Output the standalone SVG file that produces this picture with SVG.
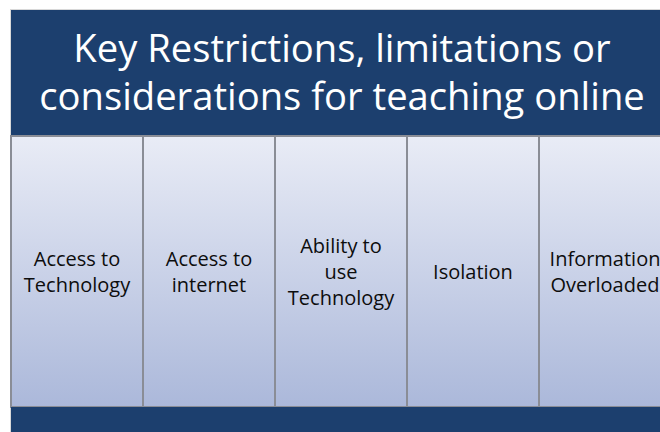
<svg xmlns="http://www.w3.org/2000/svg" width="660" height="432" viewBox="0 0 660 432">
  <defs>
    <linearGradient id="colGrad" x1="0" y1="0" x2="0" y2="1">
      <stop offset="0" stop-color="#e9ecf6"/>
      <stop offset="1" stop-color="#abb8da"/>
    </linearGradient>
    <style>
      .bar { fill: #1c3f6e; }
      .col { fill: url(#colGrad); stroke: #8a8d96; stroke-width: 2; }
      .title { font-family: "Open Sans", "Noto Sans", sans-serif; font-size: 38.2px; fill: #ffffff; text-anchor: middle; }
      .lbl { font-family: "Open Sans", "Noto Sans", sans-serif; font-size: 20px; fill: #0d0d0d; text-anchor: middle; }
    </style>
  </defs>
  <rect width="660" height="432" fill="#ffffff"/>
  <rect x="10" y="9" width="660" height="424" fill="#d8d8d8"/>

  <g id="header">
    <rect class="bar" x="11" y="10" width="660" height="126"/>
    <text class="title" x="342" y="62">Key Restrictions, limitations or</text>
    <text class="title" x="342" y="110">considerations for teaching online</text>
  </g>

  <g id="col-access-technology">
    <rect class="col" x="11" y="136" width="132" height="271"/>
    <text class="lbl" x="77" y="266">Access to</text>
    <text class="lbl" x="77" y="292">Technology</text>
  </g>
  <g id="col-access-internet">
    <rect class="col" x="143" y="136" width="132" height="271"/>
    <text class="lbl" x="209" y="266">Access to</text>
    <text class="lbl" x="209" y="292">internet</text>
  </g>
  <g id="col-ability">
    <rect class="col" x="275" y="136" width="132" height="271"/>
    <text class="lbl" x="341" y="253">Ability to</text>
    <text class="lbl" x="341" y="279">use</text>
    <text class="lbl" x="341" y="305">Technology</text>
  </g>
  <g id="col-isolation">
    <rect class="col" x="407" y="136" width="132" height="271"/>
    <text class="lbl" x="473" y="279">Isolation</text>
  </g>
  <g id="col-information">
    <rect class="col" x="539" y="136" width="132" height="271"/>
    <text class="lbl" x="605" y="266">Information</text>
    <text class="lbl" x="605" y="292">Overloaded</text>
  </g>

  <g id="footer">
    <rect class="bar" x="11" y="407" width="660" height="30"/>
  </g>
</svg>
